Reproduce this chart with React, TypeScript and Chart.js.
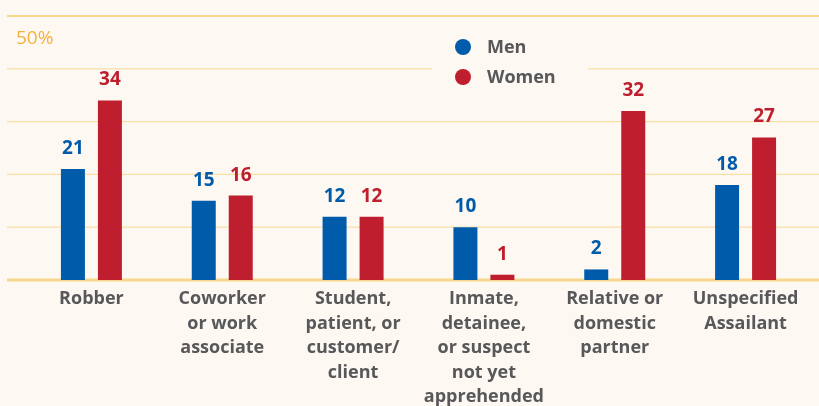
import React, { useEffect, useRef } from "react";
import { Chart, registerables } from "chart.js";

Chart.register(...registerables);

// ---- data ----
const categories: string[][] = [
  ["Robber"],
  ["Coworker", "or work", "associate"],
  ["Student,", "patient, or", "customer/", "client"],
  ["Inmate,", "detainee,", "or suspect", "not yet", "apprehended"],
  ["Relative or", "domestic", "partner"],
  ["Unspecified", "Assailant"],
];
const seriesNames = ["Men", "Women"];
const menValues = [21, 15, 12, 10, 2, 18];
const womenValues = [34, 16, 12, 1, 32, 27];
const yTickValues = [0, 10, 20, 30, 40, 50];
const topTickLabel = "50%";

// ---- styles ----
const BG = "#FDF8F1";
const BLUE = "#005BAA";
const RED = "#BE1E2D";
const GRAY = "#58585B";
const GRID = "#F9DFA6";
const GRID_STRONG = "#F8D68E";
const GOLD = "#F2B33D";
const FONT = "'Open Sans', 'DejaVu Sans', sans-serif";

const decorPlugin = {
  id: "decor",
  beforeDraw(chart: any) {
    const { ctx, width, height } = chart;
    ctx.save();
    ctx.fillStyle = BG;
    ctx.fillRect(0, 0, width, height);
    ctx.restore();
  },
  beforeDatasetsDraw(chart: any) {
    const { ctx, width } = chart;
    const y = chart.scales.y;
    ctx.save();
    yTickValues.forEach((v, i) => {
      const py = y.getPixelForValue(v);
      const isBase = v === 0;
      const isTop = i === yTickValues.length - 1;
      ctx.beginPath();
      ctx.lineWidth = isBase ? 3 : isTop ? 2 : 1.3;
      ctx.strokeStyle = isBase || isTop ? GRID_STRONG : GRID;
      ctx.moveTo(7, py);
      ctx.lineTo(width, py);
      ctx.stroke();
    });
    const topV = yTickValues[yTickValues.length - 1];
    ctx.fillStyle = GOLD;
    ctx.font = `19px ${FONT}`;
    ctx.textAlign = "left";
    ctx.textBaseline = "alphabetic";
    ctx.fillText(topTickLabel, 16, y.getPixelForValue(topV) + 28);
    ctx.restore();
  },
  afterDatasetsDraw(chart: any) {
    const { ctx } = chart;
    ctx.save();
    ctx.font = `bold 19px ${FONT}`;
    ctx.textAlign = "center";
    ctx.textBaseline = "alphabetic";
    chart.data.datasets.forEach((ds: any, di: number) => {
      const meta = chart.getDatasetMeta(di);
      ctx.fillStyle = ds.backgroundColor;
      meta.data.forEach((el: any, i: number) => {
        ctx.fillText(String(ds.data[i]), el.x, el.y - 15);
      });
    });
    ctx.restore();
  },
  afterDraw(chart: any) {
    const { ctx } = chart;
    ctx.save();
    ctx.fillStyle = BG;
    ctx.fillRect(432, 30, 156, 64);
    ctx.font = `bold 18px ${FONT}`;
    ctx.textAlign = "left";
    ctx.textBaseline = "middle";
    chart.data.datasets.forEach((ds: any, di: number) => {
      const cy = 47 + di * 30;
      ctx.fillStyle = ds.backgroundColor;
      ctx.beginPath();
      ctx.arc(463, cy, 8, 0, Math.PI * 2);
      ctx.fill();
      ctx.fillStyle = GRAY;
      ctx.fillText(ds.label, 487, cy + 1);
    });
    ctx.restore();
  },
};

export default function App() {
  const ref = useRef<HTMLCanvasElement | null>(null);

  useEffect(() => {
    document.body.style.margin = "0";
    document.body.style.background = BG;
    const canvas = ref.current;
    if (!canvas) return;
    const chart = new Chart(canvas, {
      type: "bar",
      data: {
        labels: categories,
        datasets: [
          { label: seriesNames[0], data: menValues, backgroundColor: BLUE },
          { label: seriesNames[1], data: womenValues, backgroundColor: RED },
        ],
      },
      options: {
        animation: false,
        responsive: false,
        devicePixelRatio: 1,
        categoryPercentage: 0.5655,
        barPercentage: 0.6486,
        layout: { padding: { top: 16, left: 26, right: 8, bottom: 0 } },
        plugins: {
          legend: { display: false },
          tooltip: { enabled: false },
        },
        scales: {
          y: { display: false, min: 0, max: 50 },
          x: {
            grid: { display: false, drawTicks: false },
            border: { display: false },
            ticks: {
              color: GRAY,
              font: { family: FONT, size: 18, weight: "bold", lineHeight: 1.36 },
              padding: 7,
              maxRotation: 0,
              autoSkip: false,
            },
            afterFit(scale: any) {
              scale.height = 126;
            },
          },
        },
      } as any,
      plugins: [decorPlugin],
    });
    return () => chart.destroy();
  }, []);

  return (
    <div style={{ width: 819, height: 406, background: BG }}>
      <canvas ref={ref} width={819} height={406} />
    </div>
  );
}
